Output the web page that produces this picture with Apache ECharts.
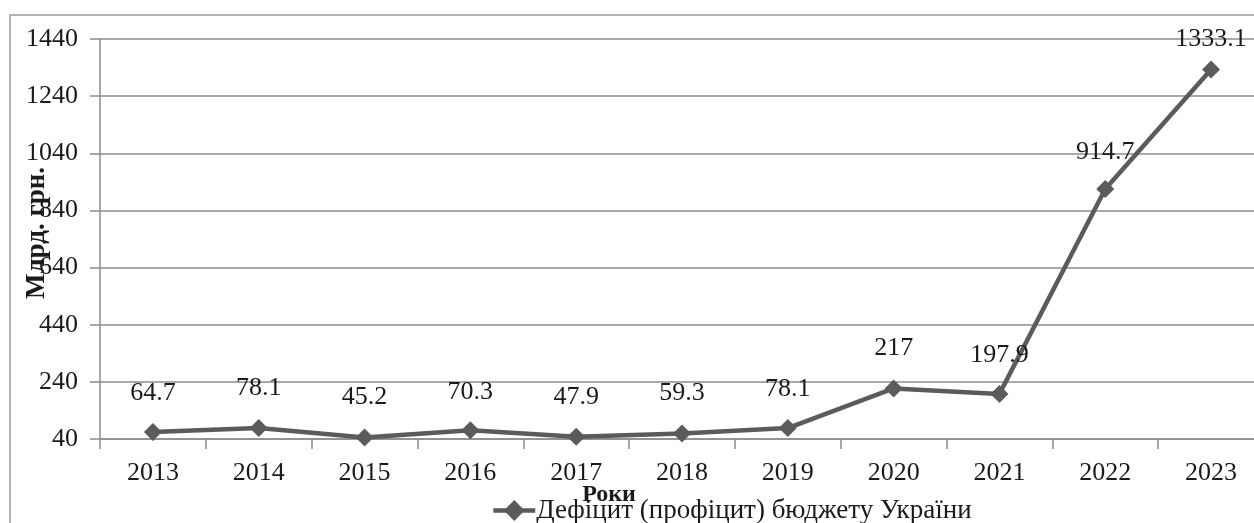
<!DOCTYPE html>
<html>
<head>
<meta charset="utf-8">
<script src="https://cdn.jsdelivr.net/npm/echarts@6/dist/echarts.min.js"></script>
<style>
  html, body { margin: 0; padding: 0; background: #fff; }
  #chart { width: 1254px; height: 523px; }
</style>
</head>
<body>
<div id="chart"></div>
<script>
// Дефіцит (профіцит) бюджету України, млрд. грн.
const years = ['2013', '2014', '2015', '2016', '2017', '2018', '2019', '2020', '2021', '2022', '2023'];
const deficit = [64.7, 78.1, 45.2, 70.3, 47.9, 59.3, 78.1, 217, 197.9, 914.7, 1333.1];
// distance of each value label above its marker
const labelGap = [17, 18, 18, 16, 18, 18, 17, 18, 17, 15, 8];

const SERIF = '"Liberation Serif", "Times New Roman", serif';
const LINE = '#5b5b5b';
const GRID = '#8c8c8c';
const TEXT = '#1a1a1a';
const FS = 26;

const chart = echarts.init(document.getElementById('chart'));
chart.setOption({
  backgroundColor: '#ffffff',
  animation: false,
  textStyle: { fontFamily: SERIF },
  graphic: [{
    type: 'rect',
    shape: { x: 10, y: 15, width: 1260, height: 520 },
    style: { fill: 'none', stroke: '#9a9a9a', lineWidth: 1.5 },
    silent: true
  }],
  grid: { left: 100, right: -10, top: 39, bottom: 84, containLabel: false, outerBoundsMode: 'none' },
  legend: {
    bottom: -6,
    left: 486,
    itemWidth: 42,
    itemHeight: 26,
    itemGap: 0,
    lineStyle: { width: 4.5, color: LINE },
    itemStyle: { color: LINE },
    textStyle: { fontFamily: SERIF, fontSize: 27, color: TEXT, padding: [0, 0, 0, -4] },
    data: ['Дефіцит (профіцит) бюджету України']
  },
  xAxis: {
    type: 'category',
    data: years,
    boundaryGap: true,
    name: 'Роки',
    nameLocation: 'middle',
    nameGap: 44,
    nameMoveOverlap: false,
    nameTextStyle: { fontFamily: SERIF, fontSize: 24, fontWeight: 'bold', color: TEXT, padding: [0, 146, 0, 0] },
    axisLine: { lineStyle: { color: GRID, width: 1.5 } },
    axisTick: { show: true, length: 10, alignWithLabel: false, lineStyle: { color: GRID, width: 1.5 } },
    axisLabel: { fontFamily: SERIF, fontSize: FS, color: TEXT, margin: 21 },
    splitLine: { show: false }
  },
  yAxis: {
    type: 'value',
    min: 40,
    max: 1440,
    interval: 200,
    name: 'Млрд. грн.',
    nameLocation: 'middle',
    nameRotate: 90,
    nameGap: 49,
    nameMoveOverlap: false,
    nameTextStyle: { fontFamily: SERIF, fontSize: 27, fontWeight: 'bold', color: TEXT, padding: [0, 0, 0, 12] },
    axisLine: { show: true, lineStyle: { color: GRID, width: 1.5 } },
    axisTick: { show: true, length: 10, lineStyle: { color: GRID, width: 1.5 } },
    axisLabel: { fontFamily: SERIF, fontSize: FS, color: TEXT, margin: 22, formatter: v => String(v) },
    splitLine: { show: true, lineStyle: { color: GRID, width: 1.5 } }
  },
  series: [{
    name: 'Дефіцит (профіцит) бюджету України',
    type: 'line',
    data: deficit.map((v, i) => ({
      value: v,
      label: { distance: labelGap[i] }
    })),
    symbol: 'diamond',
    symbolSize: [18, 18],
    lineStyle: { color: LINE, width: 4.5 },
    itemStyle: { color: LINE },
    label: {
      show: true,
      position: 'top',
      fontFamily: SERIF,
      fontSize: FS,
      color: TEXT
    }
  }]
});
</script>
</body>
</html>
